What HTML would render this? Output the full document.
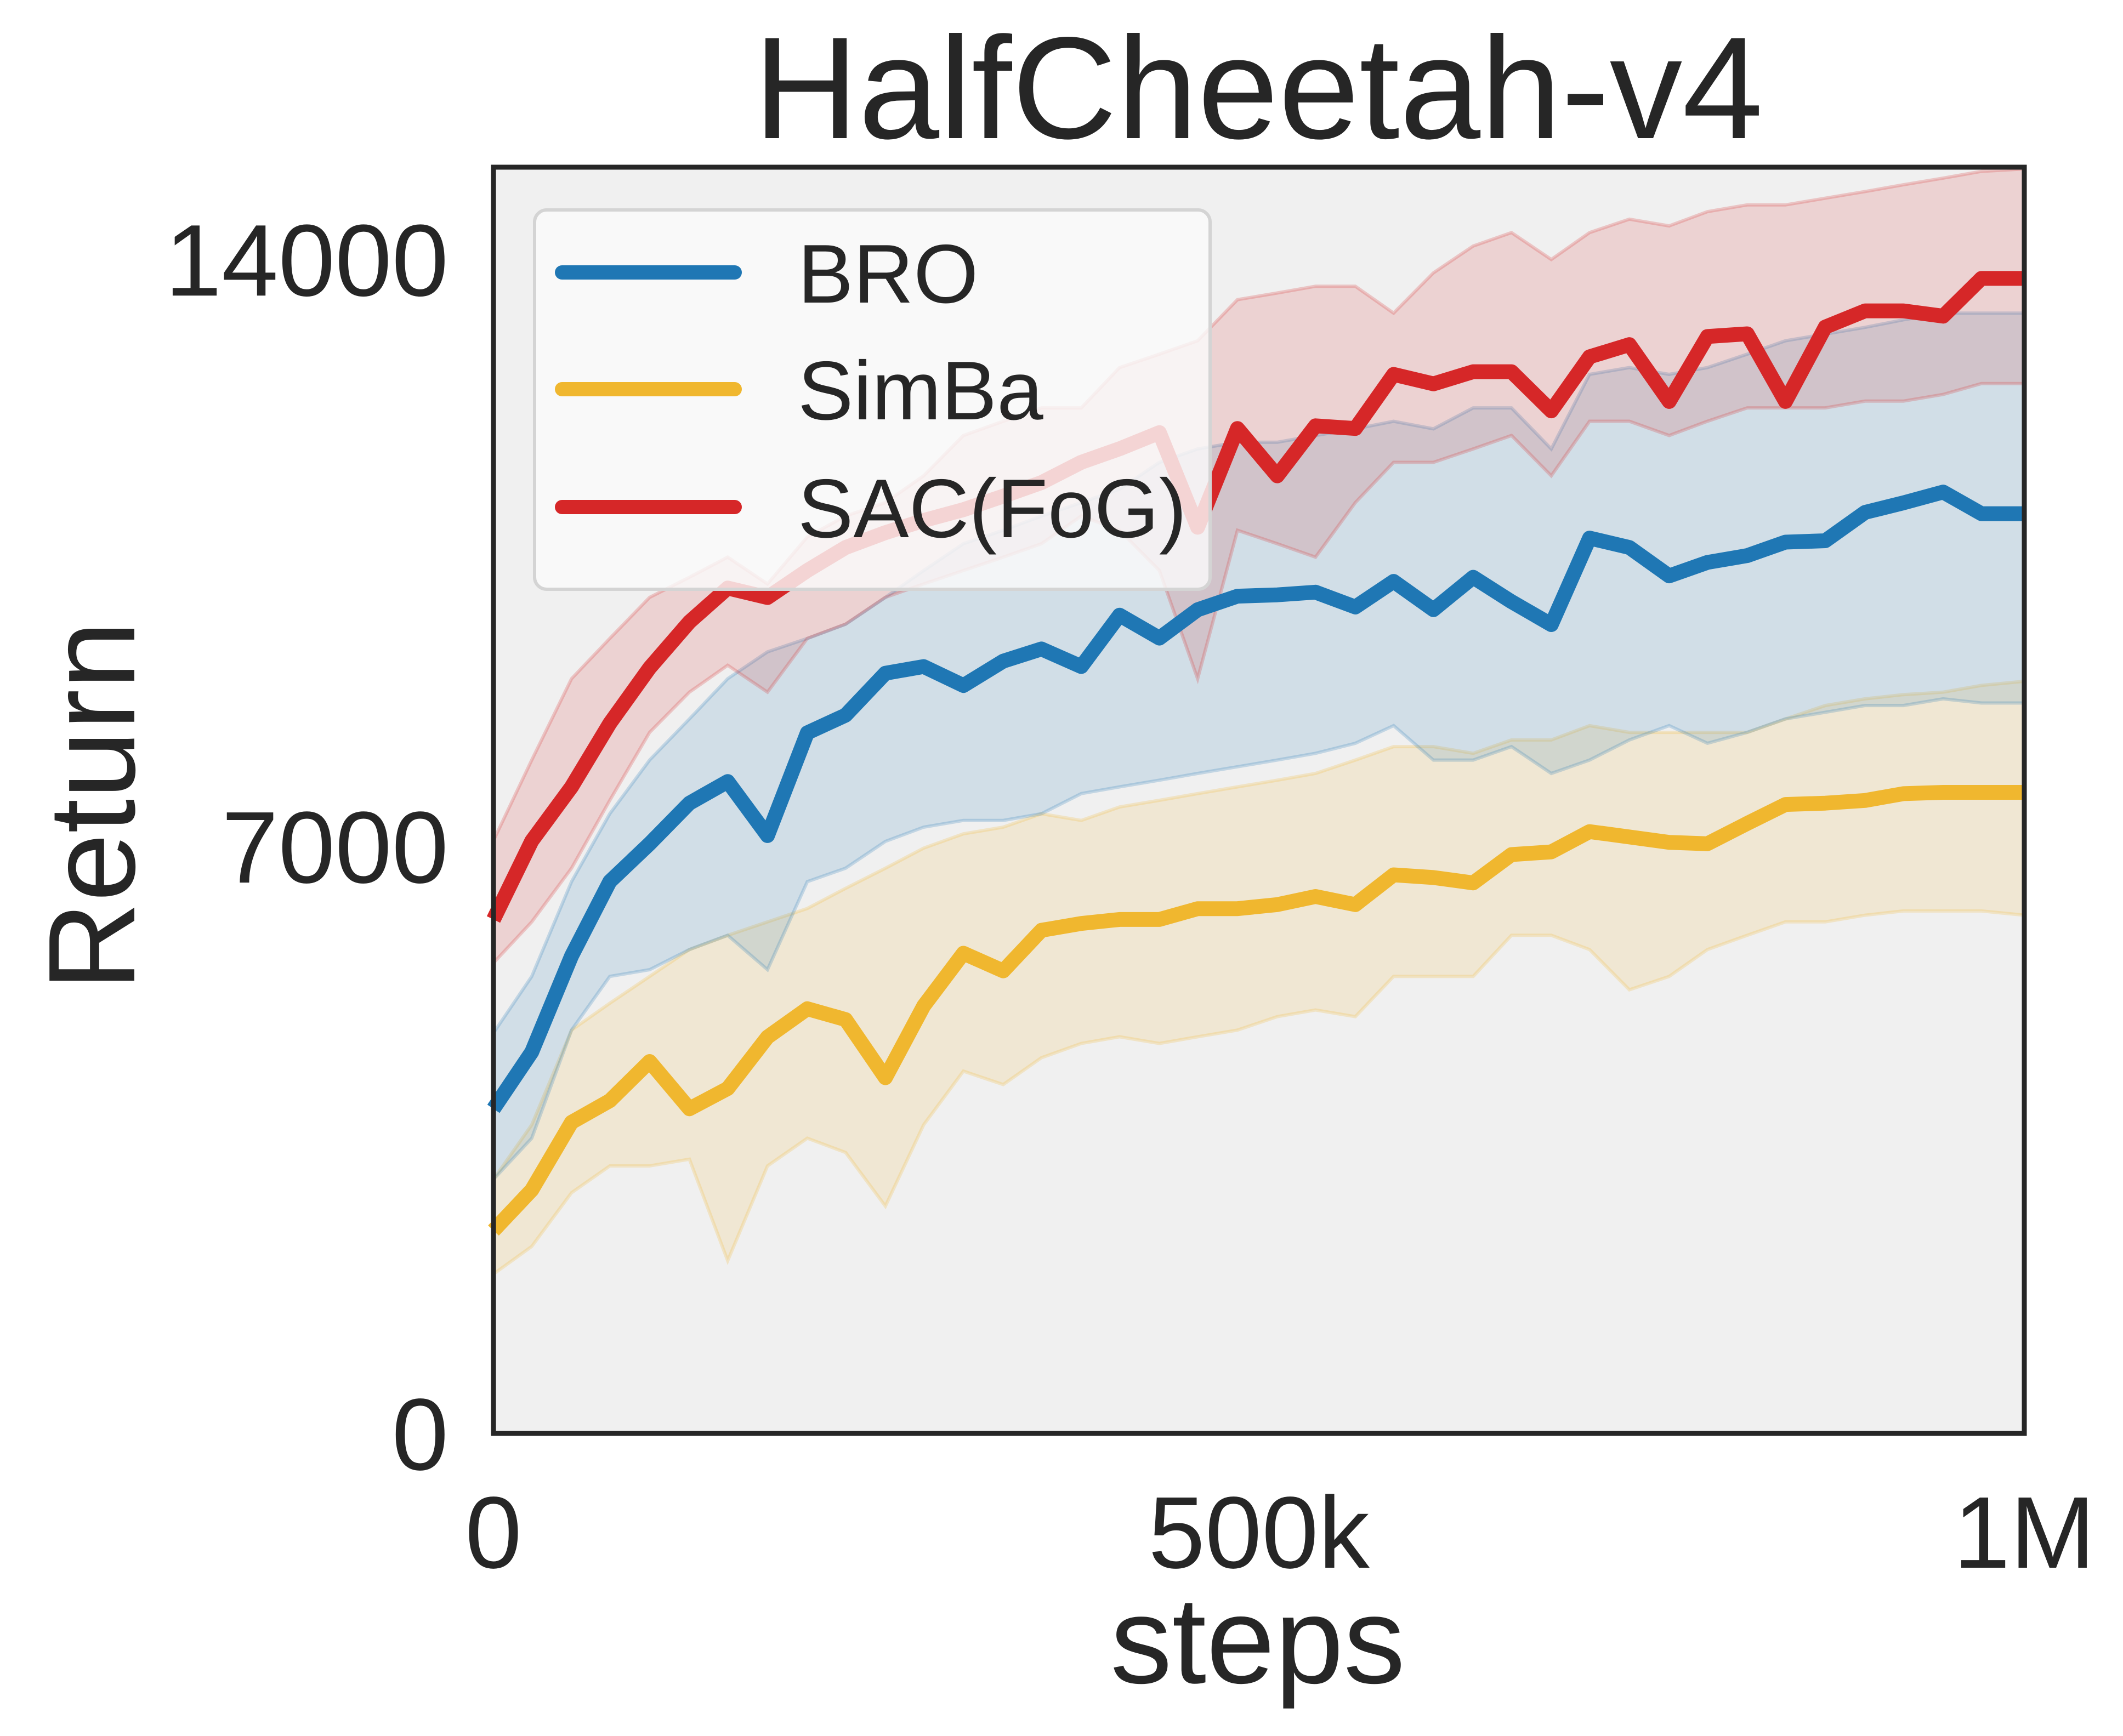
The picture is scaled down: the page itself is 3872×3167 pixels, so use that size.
<!DOCTYPE html>
<html><head><meta charset="utf-8"><style>
html,body{margin:0;padding:0;background:#fff;}
svg{display:block;font-family:"Liberation Sans",Arial,sans-serif;}
</style></head><body>
<svg id="chart" width="3872" height="3167" viewBox="0 0 3872 3167" xmlns="http://www.w3.org/2000/svg">
<rect x="0" y="0" width="3872" height="3167" fill="#ffffff"/>
<rect x="900" y="305" width="2792" height="2310" fill="#f0f0f0"/>
<g id="bands"></g>
<g id="lines"></g>
<rect x="900" y="305" width="2792" height="2310" fill="none" stroke="#262626" stroke-width="9"/>
<text x="2295" y="252" font-size="265" text-anchor="middle" fill="#262626">HalfCheetah-v4</text>
<text transform="translate(245,1470) rotate(-90)" font-size="225" text-anchor="middle" fill="#262626">Return</text>
<text x="2294" y="3070" font-size="225" text-anchor="middle" fill="#262626">steps</text>
<g id="yticks"></g>
<g id="xticks"></g>
<g>
<rect x="975" y="383" width="1232" height="692" rx="22" fill="#fafafa" fill-opacity="0.82" stroke="#d4d4d4" stroke-width="6"/>
<g>
<line x1="1025" y1="497" x2="1340" y2="497" stroke="#1f77b4" stroke-width="26" stroke-linecap="round"/>
<text x="1455" y="552" font-size="152" fill="#262626">BRO</text></g>
<g>
<line x1="1025" y1="710" x2="1340" y2="710" stroke="#f0b72f" stroke-width="26" stroke-linecap="round"/>
<text x="1455" y="765" font-size="152" fill="#262626">SimBa</text></g>
<g>
<line x1="1025" y1="925" x2="1340" y2="925" stroke="#d62728" stroke-width="26" stroke-linecap="round"/>
<text x="1455" y="980" font-size="152" fill="#262626">SAC(FoG)</text></g>
</g>
</svg>
<script>
const steps = [0,25,51,76,102,128,153,179,205,230,256,281,307,333,358,384,409,435,460,486,512,537,563,588,614,640,665,691,716,742,768,793,819,844,870,896,921,947,972,1000];
const broMean = [3871,4548,5694,6581,7032,7516,7774,7129,8355,8565,9065,9145,8919,9210,9355,9145,9758,9484,9823,9984,10000,10032,9855,10161,9823,10210,9919,9645,10677,10565,10226,10387,10468,10629,10645,10984,11097,11226,10968,10968];
const broUpper = [4775,5450,6580,7390,8030,8520,9000,9320,9480,9650,9970,10290,10610,10770,10940,11100,11260,11580,11740,11820,11820,11900,11980,12070,11980,12230,12230,11740,12630,12710,12630,12710,12870,13030,13110,13190,13280,13360,13360,13360];
const broLower = [3030,3520,4810,5450,5530,5770,5940,5530,6580,6740,7060,7230,7310,7310,7390,7630,7710,7790,7870,7950,8030,8110,8230,8440,8030,8030,8190,7870,8030,8270,8440,8230,8360,8520,8600,8680,8680,8760,8710,8710];
const simbaMean = [2419,2903,3710,3968,4435,3871,4113,4726,5065,4935,4242,5097,5726,5516,6000,6081,6129,6129,6258,6258,6306,6403,6306,6661,6629,6565,6903,6935,7177,7113,7048,7032,7274,7500,7516,7548,7629,7645,7645,7645];
const simbaUpper = [3030,3680,4810,5130,5450,5770,5940,6100,6260,6500,6740,6980,7150,7230,7390,7310,7470,7550,7630,7710,7790,7870,8030,8190,8190,8110,8270,8270,8440,8360,8360,8360,8360,8520,8680,8760,8810,8840,8920,8970];
const simbaLower = [1900,2230,2870,3190,3190,3270,2060,3190,3520,3350,2710,3680,4320,4160,4480,4650,4730,4650,4730,4810,4970,5050,4970,5450,5450,5450,5940,5940,5770,5290,5450,5770,5940,6100,6100,6180,6230,6230,6230,6180];
const sacMean = [6129,7065,7710,8468,9129,9677,10081,9968,10290,10565,10742,10887,11016,11177,11339,11581,11742,11935,10806,11984,11419,12016,11984,12629,12516,12661,12661,12194,12839,12984,12306,13081,13113,12306,13194,13387,13387,13323,13774,13774];
const sacUpper = [7070,8030,9000,9480,9970,10210,10450,10130,10690,10940,11100,11420,11900,12070,12230,12230,12710,12870,13030,13520,13600,13680,13680,13360,13840,14160,14320,14000,14320,14480,14400,14570,14650,14650,14730,14810,14890,14970,15050,15080];
const sacLower = [5610,6100,6740,7550,8360,8840,9160,8840,9480,9650,9970,10130,10290,10450,10610,10940,10770,10290,9000,10770,10610,10450,11100,11580,11580,11740,11900,11420,12070,12070,11900,12070,12230,12230,12230,12310,12310,12390,12520,12520];
const yTicks = [0,7000,14000];
const yTickLabels = ["0","7000","14000"];
const xTicks = [0,500,1000];
const xTickLabels = ["0","500k","1M"];

const X0=900,X1=3692,Y0=2615,Y1=305,YMAX=15100;
function xs(v){return X0+(v/1000)*(X1-X0);}
function ys(v){return Y0-(v/YMAX)*(Y0-Y1);}
const NS="http://www.w3.org/2000/svg";
const bands=document.getElementById('bands'), lines=document.getElementById('lines');
function band(up,lo,color,name){
  let d='M'+steps.map((s,i)=>xs(s).toFixed(1)+','+ys(up[i]).toFixed(1)).join('L');
  for(let i=steps.length-1;i>=0;i--) d+='L'+xs(steps[i]).toFixed(1)+','+ys(lo[i]).toFixed(1);
  d+='Z';
  const p=document.createElementNS(NS,'path');
  p.setAttribute('d',d);p.setAttribute('fill',color);p.setAttribute('fill-opacity','0.15');
  p.setAttribute('stroke',color);p.setAttribute('stroke-opacity','0.22');p.setAttribute('stroke-width','6');
  
  
  bands.appendChild(p);
}
function line(vals,color,name){
  const p=document.createElementNS(NS,'polyline');
  p.setAttribute('points',steps.map((s,i)=>xs(s).toFixed(1)+','+ys(vals[i]).toFixed(1)).join(' '));
  p.setAttribute('fill','none');p.setAttribute('stroke',color);p.setAttribute('stroke-width','27');
  p.setAttribute('stroke-linejoin','round');p.setAttribute('stroke-linecap','butt');
  
  
  lines.appendChild(p);
}
band(simbaUpper,simbaLower,'#f0b72f','simba-band');
band(broUpper,broLower,'#1f77b4','bro-band');
band(sacUpper,sacLower,'#d62728','sac-fog-band');
line(broMean,'#1f77b4','bro-line');
line(simbaMean,'#f0b72f','simba-line');
line(sacMean,'#d62728','sac-fog-line');
const yt=document.getElementById('yticks');
yTicks.forEach((v,i)=>{
  const t=document.createElementNS(NS,'text');
  t.setAttribute('x','818');t.setAttribute('y',(ys(v)+66).toFixed(1));
  t.setAttribute('font-size','186');t.setAttribute('text-anchor','end');t.setAttribute('fill','#262626');
  t.textContent=yTickLabels[i];
  
  
  yt.appendChild(t);
});
const xt=document.getElementById('xticks');
xTicks.forEach((v,i)=>{
  const t=document.createElementNS(NS,'text');
  t.setAttribute('x',xs(v).toFixed(1));t.setAttribute('y','2860');
  t.setAttribute('font-size','186');t.setAttribute('text-anchor','middle');t.setAttribute('fill','#262626');
  t.textContent=xTickLabels[i];
  
  
  xt.appendChild(t);
});
</script>
</body></html>
